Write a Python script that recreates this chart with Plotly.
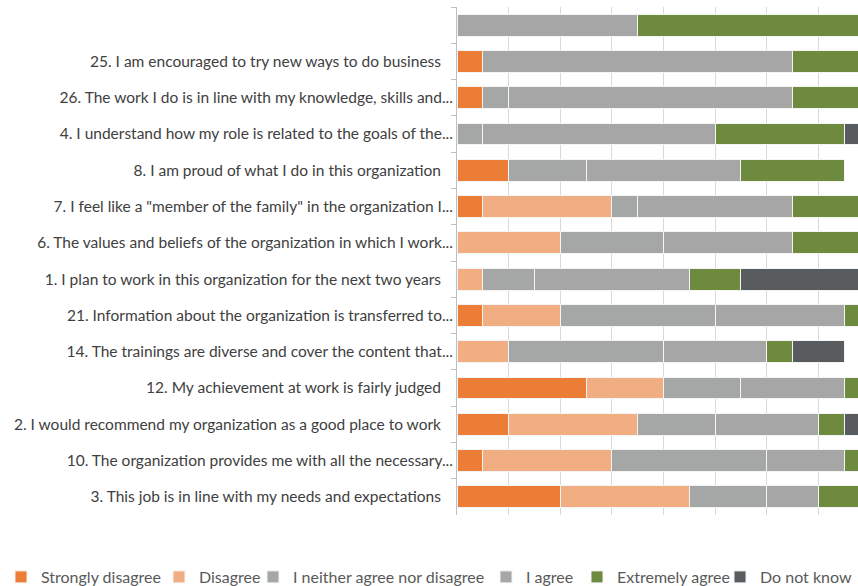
import plotly.graph_objects as go

# Categories, top to bottom
categories = [
    "\u00a0",
    "25. I am encouraged to try new ways to do business\u00a0\u00a0\u00a0",
    "26. The work I do is in line with my knowledge, skills and...",
    "4. I understand how my role is related to the goals of the...",
    "8. I am proud of what I do in this organization\u00a0\u00a0\u00a0",
    "7. I feel like a \"member of the family\" in the organization I...",
    "6. The values and beliefs of the organization in which I work...",
    "1. I plan to work in this organization for the next two years\u00a0\u00a0\u00a0",
    "21. Information about the organization is transferred to...",
    "14. The trainings are diverse and cover the content that...",
    "12. My achievement at work is fairly judged\u00a0\u00a0\u00a0",
    "2. I would recommend my organization as a good place to work\u00a0\u00a0\u00a0",
    "10. The organization provides me with all the necessary...",
    "3. This job is in line with my needs and expectations\u00a0\u00a0\u00a0",
]

strongly_disagree = [0, 1, 1, 0, 2, 1, 0, 0, 1, 0, 5, 2, 1, 4]
disagree          = [0, 0, 0, 0, 0, 5, 4, 1, 3, 2, 3, 5, 5, 5]
neither           = [0, 0, 1, 1, 3, 1, 4, 2, 6, 6, 3, 3, 6, 3]
agree             = [7, 12, 11, 9, 6, 6, 5, 6, 5, 4, 4, 4, 3, 2]
extremely_agree   = [10, 4, 4, 5, 4, 4, 4, 2, 2, 1, 2, 1, 2, 3]
do_not_know       = [0, 0, 0, 2, 0, 0, 0, 6, 0, 2, 0, 2, 0, 0]

series = [
    ("Strongly disagree", strongly_disagree, "#EB7D37"),
    ("Disagree", disagree, "#F1AE82"),
    ("I neither agree nor disagree", neither, "#A4A7A6"),
    ("I agree", agree, "#A6A6A6"),
    ("Extremely agree", extremely_agree, "#6E8A3E"),
    ("Do not know", do_not_know, "#585C5F"),
]

# left x positions (px) of each legend box
legend_box_x = [1, 159, 253, 486, 577, 720]

fig = go.Figure()
for i, (name, vals, color) in enumerate(series):
    lg = "legend" if i == 0 else f"legend{i+1}"
    fig.add_trace(go.Bar(
        y=categories, x=vals, name=name, orientation="h",
        marker=dict(color=color, line=dict(color="#F4F4F4", width=1)),
        legend=lg,
    ))

W, H = 858, 586
layout_legends = {}
for i, bx in enumerate(legend_box_x):
    key = "legend" if i == 0 else f"legend{i+1}"
    layout_legends[key] = dict(
        xref="container", yref="container",
        x=bx / W, y=1 - 577 / H,
        xanchor="left", yanchor="middle",
        bgcolor="rgba(0,0,0,0)", borderwidth=0,
        font=dict(family="Lato", size=16, color="#595959"),
    )

fig.update_layout(
    width=W, height=H,
    barmode="stack", bargap=0.4,
    margin=dict(l=457, r=0, t=7, b=71, autoexpand=False),
    plot_bgcolor="white", paper_bgcolor="white",
    showlegend=True,
    xaxis=dict(
        range=[0, 15.54], dtick=2, tick0=0,
        showgrid=True, gridcolor="#D9D9D9", gridwidth=1,
        showticklabels=False, zeroline=False, showline=False, ticks="",
    ),
    yaxis=dict(
        autorange="reversed", type="category", automargin=False,
        showline=True, linecolor="#BFBFBF", linewidth=1,
        ticks="outside", ticklen=5, tickcolor="#BFBFBF", tickson="boundaries",
        showgrid=False,
        tickfont=dict(family="Lato", size=15.5, color="#404040"),
    ),
    **layout_legends,
)

fig.write_html("out.html")
